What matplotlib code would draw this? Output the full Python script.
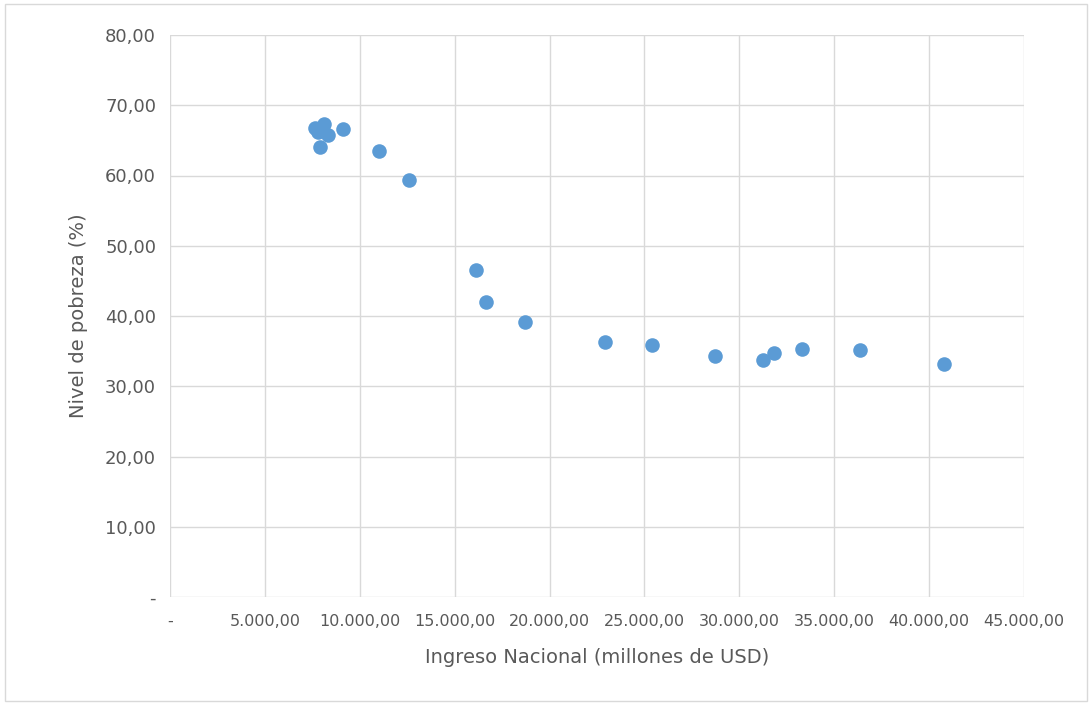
import matplotlib
matplotlib.use("Agg")
import matplotlib.pyplot as plt
from matplotlib.ticker import FuncFormatter

ingreso = [7640, 7800, 8115, 8325, 7900, 9115, 11010, 12590, 16120, 16650, 18710,
           22920, 25400, 28720, 31250, 31830, 33300, 36360, 40780]
pobreza = [66.8, 66.2, 67.4, 65.7, 64.0, 66.6, 63.5, 59.4, 46.5, 42.0, 39.1,
           36.3, 35.9, 34.3, 33.7, 34.7, 35.3, 35.2, 33.2]

def fmt(v, pos):
    if abs(v) < 1e-9:
        return "-"
    s = f"{v:,.2f}"
    return s.replace(",", "X").replace(".", ",").replace("X", ".")

fig = plt.figure(figsize=(10.92, 7.05), dpi=100)
ax = fig.add_axes([170/1092, 1-597/705, (1024-170)/1092, (597-35)/705])
ax.scatter(ingreso, pobreza, s=110, color="#5b9bd5", zorder=3, linewidths=0)
ax.set_xlim(0, 45000)
ax.set_ylim(0, 80)
ax.set_xticks(range(0, 45001, 5000))
ax.set_yticks(range(0, 81, 10))
ax.xaxis.set_major_formatter(FuncFormatter(fmt))
ax.yaxis.set_major_formatter(FuncFormatter(fmt))
ax.grid(True, color="#d9d9d9", linewidth=1, zorder=0)
for s in ax.spines.values():
    s.set_visible(False)
ax.tick_params(length=0, colors="#595959", labelsize=12)
ax.tick_params(axis="x", pad=12, labelsize=11.5)
ax.tick_params(axis="y", pad=10, labelsize=13)
ax.set_xlabel("Ingreso Nacional (millones de USD)", fontsize=14, color="#595959", labelpad=14)
ax.set_ylabel("Nivel de pobreza (%)", fontsize=14, color="#595959", labelpad=12)
fig.patches.append(plt.Rectangle((0.005, 0.005), 0.99, 0.99, transform=fig.transFigure,
                                 fill=False, edgecolor="#d9d9d9", linewidth=1))
fig.savefig("out.png", dpi=100)
